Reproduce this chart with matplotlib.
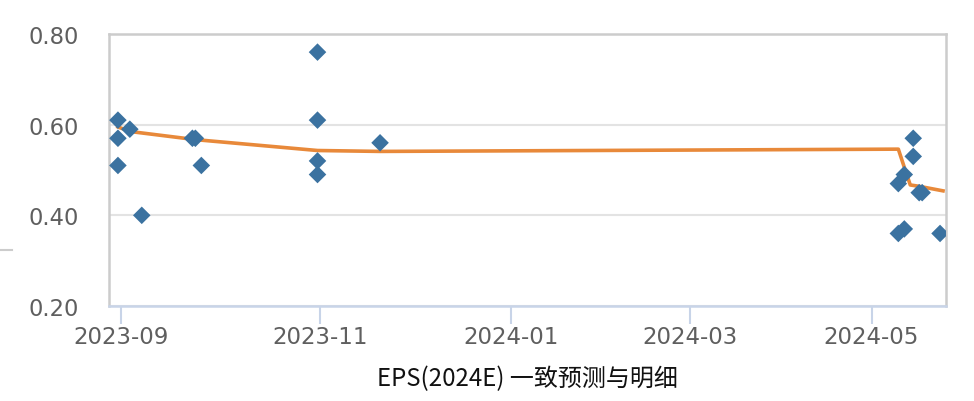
import matplotlib.pyplot as plt
import pandas as pd
from matplotlib.lines import Line2D

plt.rcParams['font.family'] = ['DejaVu Sans', 'Noto Sans CJK SC']

# individual analyst forecasts (EPS 2024E)
detail_dates = ['2023-08-22', '2023-08-22', '2023-08-22', '2023-08-26', '2023-08-30',
                '2023-09-16', '2023-09-17', '2023-09-19',
                '2023-10-28', '2023-10-28', '2023-10-28', '2023-10-28', '2023-11-18',
                '2024-05-10', '2024-05-12', '2024-05-15', '2024-05-15',
                '2024-05-17', '2024-05-18', '2024-05-10', '2024-05-12', '2024-05-24']
detail_eps = [0.61, 0.57, 0.51, 0.59, 0.40,
              0.57, 0.57, 0.51,
              0.76, 0.61, 0.52, 0.49, 0.56,
              0.47, 0.49, 0.57, 0.53,
              0.45, 0.45, 0.36, 0.37, 0.36]

# consensus line
cons_dates = ['2023-08-22', '2023-08-26', '2023-09-17', '2023-10-28', '2023-11-18',
              '2024-05-10', '2024-05-12', '2024-05-14', '2024-05-17', '2024-05-25']
cons_eps = [0.595, 0.585, 0.567, 0.543, 0.541, 0.546, 0.506, 0.467, 0.464, 0.454]

tick_dates = ['2023-08-23', '2023-10-29', '2024-01-01', '2024-03-01', '2024-05-01']
tick_labels = ['2023-09', '2023-11', '2024-01', '2024-03', '2024-05']
y_ticks = [0.20, 0.40, 0.60, 0.80]

fig = plt.figure(figsize=(9.74, 4.02), dpi=100)
ax = fig.add_axes([109 / 974, 1 - 307 / 402, 837 / 974, 272 / 402])

ax.plot(pd.to_datetime(cons_dates), cons_eps, color='#e8893a', lw=2.6, zorder=3)
ax.scatter(pd.to_datetime(detail_dates), detail_eps, marker='D', s=80,
           color='#3b72a0', edgecolors='none', zorder=4)

ax.set_xlim(pd.Timestamp('2023-08-19'), pd.Timestamp('2024-05-26'))
ax.set_ylim(0.2, 0.8)
ax.set_xticks(pd.to_datetime(tick_dates))
ax.set_xticklabels(tick_labels)
ax.set_yticks(y_ticks)
ax.set_yticklabels(['%.2f' % v for v in y_ticks])

ax.grid(axis='y', color='#e3e3e3', lw=1.5)
ax.set_axisbelow(True)
for side in ['left', 'top', 'right']:
    ax.spines[side].set_color('#cccccc')
    ax.spines[side].set_linewidth(1.8)
ax.spines['bottom'].set_color('#c8d4e8')
ax.spines['bottom'].set_linewidth(1.8)

ax.tick_params(axis='y', length=0, pad=22, labelsize=16.3, labelcolor='#5f5f5f')
ax.tick_params(axis='x', length=13, width=1.5, color='#c8d4e8', pad=1,
               labelsize=16.5, labelcolor='#5f5f5f')

ax.set_xlabel('EPS(2024E) 一致预测与明细', fontsize=17.3, color='#111111',
              labelpad=12, family=['Noto Sans CJK SC', 'DejaVu Sans'])

# small stray tick at the far left
fig.add_artist(Line2D([0, 12 / 974], [1 - 251 / 402, 1 - 251 / 402],
                      color='#cccccc', lw=1.5, transform=fig.transFigure))

fig.savefig('out.png', dpi=100)
